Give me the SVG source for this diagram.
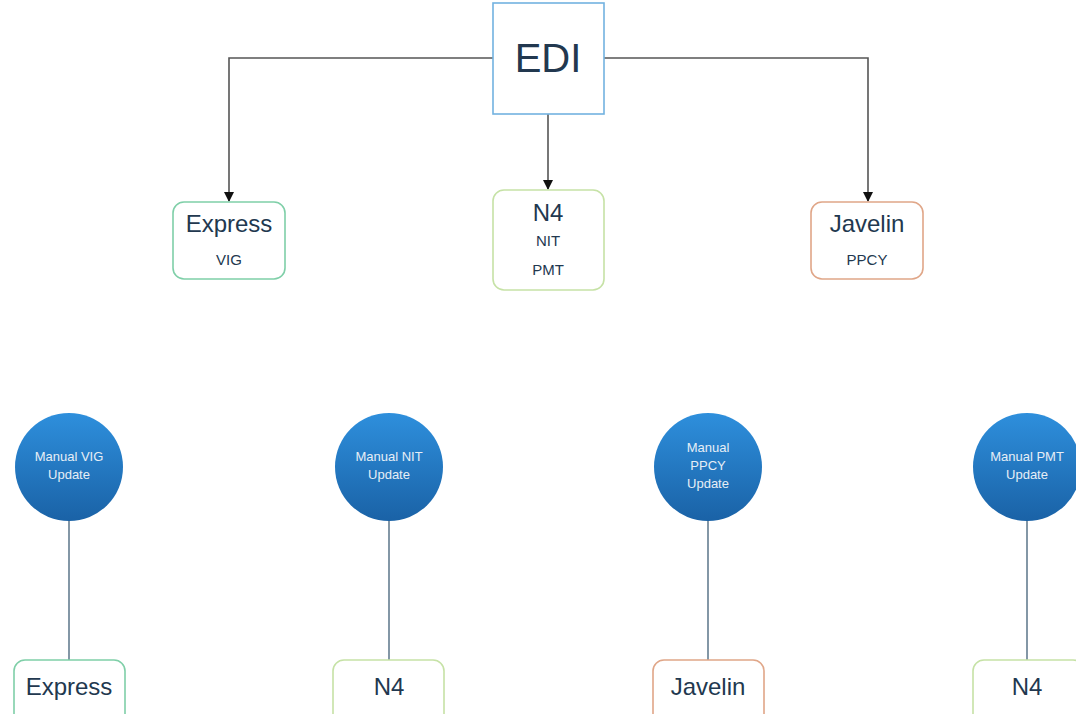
<svg xmlns="http://www.w3.org/2000/svg" width="1076" height="714" viewBox="0 0 1076 714">
<style>
.bg{fill:#ffffff}
.box{fill:#ffffff;stroke-width:1.6}
.edi{stroke:#72b2e0}
.green{stroke:#7fcfa8}
.lime{stroke:#c6e2a6}
.orange{stroke:#e0a688}
.t{font-family:"Liberation Sans",Arial,sans-serif;fill:#22384f;text-anchor:middle}
.big{font-size:24px}
.small{font-size:15px}
.ct{font-family:"Liberation Sans",Arial,sans-serif;fill:#e6eef6;font-size:13px;text-anchor:middle}
.conn{fill:none;stroke:#555555;stroke-width:1.6}
.vline{fill:none;stroke:#4f6b80;stroke-width:1.4}
</style>
<defs>
<marker id="arr" markerWidth="10" markerHeight="10" refX="9" refY="5" orient="auto" markerUnits="userSpaceOnUse">
<path d="M0,0 L10,5 L0,10 z" fill="#111111"/>
</marker>
<linearGradient id="cg" x1="0" y1="0" x2="0" y2="1">
<stop offset="0" stop-color="#2e8fdc"/>
<stop offset="1" stop-color="#1a62a6"/>
</linearGradient>
</defs>
<rect class="bg" x="0" y="0" width="1076" height="714"/>
<g id="connectors">
<path class="conn" d="M493,58 H229 V201" marker-end="url(#arr)"/>
<path class="conn" d="M604,58 H868 V201" marker-end="url(#arr)"/>
<path class="conn" d="M548,114 V189" marker-end="url(#arr)"/>
<path class="vline" d="M69,521 V660"/>
<path class="vline" d="M389,521 V660"/>
<path class="vline" d="M708,521 V660"/>
<path class="vline" d="M1027,521 V660"/>
</g>
<g id="edi">
<rect class="box edi" x="493" y="3" width="111" height="111"/>
<text class="t" x="548" y="72" font-size="40">EDI</text>
</g>
<g id="express-top">
<rect class="box green" x="173" y="202" width="112" height="77" rx="11"/>
<text class="t big" x="229" y="232">Express</text>
<text class="t small" x="229" y="265">VIG</text>
</g>
<g id="n4-top">
<rect class="box lime" x="493" y="190" width="111" height="100" rx="11"/>
<text class="t big" x="548" y="221">N4</text>
<text class="t small" x="548" y="246">NIT</text>
<text class="t small" x="548" y="275">PMT</text>
</g>
<g id="javelin-top">
<rect class="box orange" x="811" y="202" width="112" height="77" rx="11"/>
<text class="t big" x="867" y="232">Javelin</text>
<text class="t small" x="867" y="265">PPCY</text>
</g>
<g id="manual-vig">
<circle cx="69" cy="467" r="54" fill="url(#cg)"/>
<text class="ct" x="69" y="461">Manual VIG</text>
<text class="ct" x="69" y="479">Update</text>
</g>
<g id="manual-nit">
<circle cx="389" cy="467" r="54" fill="url(#cg)"/>
<text class="ct" x="389" y="461">Manual NIT</text>
<text class="ct" x="389" y="479">Update</text>
</g>
<g id="manual-ppcy">
<circle cx="708" cy="467" r="54" fill="url(#cg)"/>
<text class="ct" x="708" y="452">Manual</text>
<text class="ct" x="708" y="470">PPCY</text>
<text class="ct" x="708" y="488">Update</text>
</g>
<g id="manual-pmt">
<circle cx="1027" cy="467" r="54" fill="url(#cg)"/>
<text class="ct" x="1027" y="461">Manual PMT</text>
<text class="ct" x="1027" y="479">Update</text>
</g>
<g id="express-bottom">
<rect class="box green" x="14" y="660" width="111" height="66" rx="11"/>
<text class="t big" x="69" y="695">Express</text>
</g>
<g id="n4-bottom">
<rect class="box lime" x="333" y="660" width="111" height="66" rx="11"/>
<text class="t big" x="389" y="695">N4</text>
</g>
<g id="javelin-bottom">
<rect class="box orange" x="653" y="660" width="111" height="66" rx="11"/>
<text class="t big" x="708" y="695">Javelin</text>
</g>
<g id="n4-bottom-right">
<rect class="box lime" x="973" y="660" width="111" height="66" rx="11"/>
<text class="t big" x="1027" y="695">N4</text>
</g>
</svg>
